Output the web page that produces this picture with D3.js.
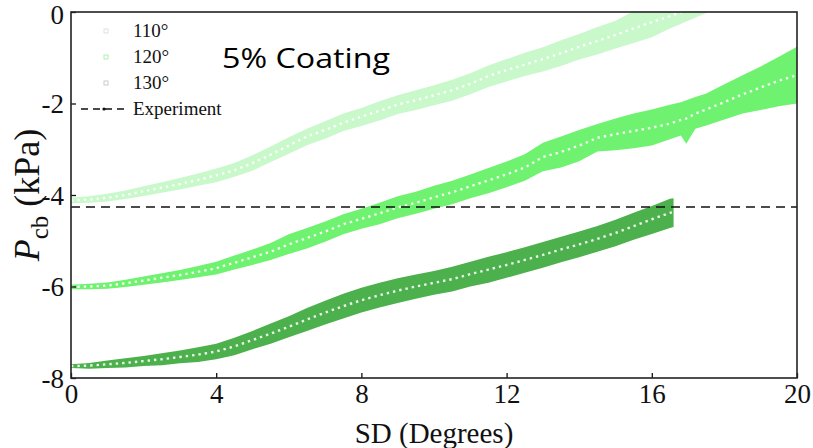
<!DOCTYPE html>
<html>
<head>
<meta charset="utf-8">
<script src="https://cdn.jsdelivr.net/npm/d3@7"></script>
<style>
  body { margin: 0; background: #fff; }
  svg { display: block; }
</style>
</head>
<body>
<script>
// P_cb vs SD bands for three contact angles, 5% coating

// x positions (degrees)
const sd110 = [0,0.5,1,1.5,2,2.5,3,3.5,4,4.5,5,5.5,6,6.5,7,7.5,8,8.5,9,9.5,10,10.5,11,11.5,12,12.5,13,13.5,14,14.5,15,15.5,16,16.5,17,17.5,18];
const mean110 = [-4.12,-4.10,-4.06,-4.00,-3.92,-3.84,-3.76,-3.67,-3.57,-3.46,-3.30,-3.12,-2.92,-2.72,-2.58,-2.42,-2.29,-2.16,-2.02,-1.93,-1.82,-1.71,-1.57,-1.40,-1.27,-1.15,-1.03,-0.90,-0.76,-0.63,-0.50,-0.36,-0.22,-0.09,0.05,0.18,0.31];
const hi110 = [-4.06,-4.03,-3.97,-3.90,-3.81,-3.72,-3.63,-3.53,-3.42,-3.30,-3.13,-2.94,-2.74,-2.55,-2.39,-2.22,-2.10,-1.95,-1.82,-1.71,-1.60,-1.48,-1.34,-1.17,-1.03,-0.89,-0.77,-0.62,-0.48,-0.33,-0.19,0.02,0.12,0.26,0.40,0.54,0.66];
const lo110 = [-4.18,-4.17,-4.14,-4.09,-4.02,-3.95,-3.88,-3.80,-3.72,-3.60,-3.47,-3.28,-3.10,-2.91,-2.77,-2.60,-2.49,-2.37,-2.23,-2.14,-2.04,-1.94,-1.80,-1.64,-1.52,-1.40,-1.30,-1.18,-1.04,-0.93,-0.80,-0.68,-0.55,-0.36,-0.19,-0.02,0.15];

const sd120 = [0,0.5,1,1.5,2,2.5,3,3.5,4,4.5,5,5.5,6,6.5,7,7.5,8,8.5,9,9.5,10,10.5,11,11.5,12,12.5,13,13.5,14,14.5,15,15.5,16,16.5,16.8,16.95,17.2,17.5,18,18.5,19,19.5,20];
const mean120 = [-6.01,-6.00,-5.98,-5.93,-5.87,-5.81,-5.75,-5.68,-5.60,-5.48,-5.36,-5.24,-5.08,-4.94,-4.80,-4.64,-4.52,-4.40,-4.27,-4.17,-4.05,-3.94,-3.81,-3.68,-3.55,-3.40,-3.17,-3.06,-2.92,-2.75,-2.67,-2.60,-2.53,-2.44,-2.36,-2.33,-2.22,-2.13,-1.97,-1.80,-1.65,-1.50,-1.38];
const hi120 = [-5.96,-5.94,-5.91,-5.85,-5.78,-5.71,-5.64,-5.55,-5.46,-5.32,-5.19,-5.05,-4.86,-4.72,-4.58,-4.42,-4.30,-4.17,-4.03,-3.93,-3.80,-3.69,-3.55,-3.41,-3.27,-3.11,-2.86,-2.72,-2.58,-2.45,-2.33,-2.22,-2.13,-2.03,-1.97,-1.93,-1.86,-1.78,-1.58,-1.38,-1.19,-0.98,-0.76];
const lo120 = [-6.06,-6.06,-6.05,-6.01,-5.96,-5.91,-5.86,-5.80,-5.74,-5.63,-5.53,-5.42,-5.29,-5.17,-5.02,-4.86,-4.74,-4.64,-4.51,-4.41,-4.30,-4.20,-4.07,-3.96,-3.83,-3.69,-3.48,-3.40,-3.26,-3.05,-3.02,-2.98,-2.92,-2.78,-2.70,-2.88,-2.55,-2.48,-2.35,-2.22,-2.14,-2.06,-2.00];

const sd130 = [0,0.5,1,1.5,2,2.5,3,3.5,4,4.5,5,5.5,6,6.5,7,7.5,8,8.5,9,9.5,10,10.5,11,11.5,12,12.5,13,13.5,14,14.5,15,15.5,16,16.5,16.6];
const mean130 = [-7.74,-7.73,-7.70,-7.67,-7.63,-7.59,-7.54,-7.49,-7.42,-7.31,-7.17,-7.03,-6.88,-6.72,-6.57,-6.43,-6.30,-6.19,-6.09,-6.00,-5.92,-5.84,-5.73,-5.63,-5.53,-5.42,-5.31,-5.19,-5.08,-4.96,-4.83,-4.68,-4.53,-4.39,-4.37];
const hi130 = [-7.70,-7.67,-7.62,-7.57,-7.52,-7.46,-7.40,-7.33,-7.25,-7.12,-6.97,-6.81,-6.65,-6.47,-6.31,-6.16,-6.03,-5.92,-5.82,-5.74,-5.66,-5.57,-5.46,-5.35,-5.25,-5.14,-5.03,-4.91,-4.80,-4.68,-4.54,-4.39,-4.24,-4.08,-4.07];
const lo130 = [-7.78,-7.80,-7.78,-7.77,-7.74,-7.72,-7.68,-7.65,-7.59,-7.50,-7.37,-7.25,-7.11,-6.97,-6.83,-6.70,-6.57,-6.46,-6.36,-6.27,-6.18,-6.11,-6.00,-5.92,-5.81,-5.70,-5.59,-5.47,-5.36,-5.24,-5.12,-4.98,-4.85,-4.72,-4.70];

const experiment = -4.26;

const xTicks = [0, 4, 8, 12, 16, 20];
const yTicks = [0, -2, -4, -6, -8];

const legendLabels = ['110°', '120°', '130°'];
const bandColors = ['#c9f8cb', '#6ff26f', '#4cb14c'];
const markerColors = ['#d8d8d8', '#9be89b', '#bdbdbd'];

const series = [
  {x: sd110, mean: mean110, hi: hi110, lo: lo110},
  {x: sd120, mean: mean120, hi: hi120, lo: lo120},
  {x: sd130, mean: mean130, hi: hi130, lo: lo130}
];

const width = 813;
const height = 448;
const margin = ({top: 12, right: 16, bottom: 70, left: 71});
const serif = "'Liberation Serif', 'Times New Roman', serif";

const xScale = d3.scaleLinear()
  .domain([0, 20])
  .range([margin.left, width - margin.right]);

const yScale = d3.scaleLinear()
  .domain([-8, 0])
  .range([height - margin.bottom, margin.top]);

const svg = d3.select('body')
  .append('svg')
  .attr('width', width)
  .attr('height', height)
  .attr('font-family', serif);

svg.append('clipPath')
  .attr('id', 'plot')
  .append('rect')
  .attr('x', margin.left)
  .attr('y', margin.top)
  .attr('width', xScale(20) - xScale(0))
  .attr('height', yScale(-8) - yScale(0));

const plot = svg.append('g').attr('clip-path', 'url(#plot)');

// bands
series.forEach((s, i) => {
  const rows = s.x.map((x, j) => ({x: x, mean: s.mean[j], hi: s.hi[j], lo: s.lo[j]}));

  const area = d3.area()
    .x(d => xScale(d.x))
    .y0(d => yScale(d.lo))
    .y1(d => yScale(d.hi));

  plot.append('path')
    .datum(rows)
    .attr('d', area)
    .attr('fill', bandColors[i]);

  const line = d3.line()
    .x(d => xScale(d.x))
    .y(d => yScale(d.mean));

  plot.append('path')
    .datum(rows)
    .attr('d', line)
    .attr('fill', 'none')
    .attr('stroke', '#fff')
    .attr('stroke-width', 2.4)
    .attr('stroke-dasharray', '2.4,4')
    .attr('opacity', 0.9);
});

// experiment line
svg.append('line')
  .attr('x1', xScale(0))
  .attr('x2', xScale(20))
  .attr('y1', yScale(experiment))
  .attr('y2', yScale(experiment))
  .attr('stroke', '#111')
  .attr('stroke-width', 1.5)
  .attr('stroke-dasharray', '9,6');

// axes
const xAxis = d3.axisBottom(xScale).tickValues(xTicks).tickSize(-5).tickPadding(6).tickFormat(d3.format('d'));
const yAxis = d3.axisLeft(yScale).tickValues(yTicks).tickSize(-5).tickPadding(7).tickFormat(d => d);

const gx = svg.append('g')
  .attr('transform', `translate(0,${height - margin.bottom})`)
  .call(xAxis);

const gy = svg.append('g')
  .attr('transform', `translate(${margin.left},0)`)
  .call(yAxis);

[gx, gy].forEach(g => {
  g.attr('font-family', serif).attr('font-size', 27);
  g.select('.domain').remove();
  g.selectAll('.tick line').attr('stroke', '#111').attr('stroke-width', 1.3);
  g.selectAll('.tick text').attr('fill', '#111');
});
gy.selectAll('.tick text').attr('dy', d => d === 0 ? '0.42em' : '0.34em');

// frame
svg.append('rect')
  .attr('x', xScale(0))
  .attr('y', yScale(0))
  .attr('width', xScale(20) - xScale(0))
  .attr('height', yScale(-8) - yScale(0))
  .attr('fill', 'none')
  .attr('stroke', '#222')
  .attr('stroke-width', 1.6);

// axis titles
svg.append('text')
  .attr('x', (xScale(0) + xScale(20)) / 2)
  .attr('y', 443)
  .attr('text-anchor', 'middle')
  .attr('font-size', 29)
  .attr('fill', '#111')
  .text('SD (Degrees)');

const ylab = svg.append('text')
  .attr('transform', `translate(39,${yScale(-4)}) rotate(-90)`)
  .attr('text-anchor', 'middle')
  .attr('font-size', 36)
  .attr('fill', '#111');
ylab.append('tspan').attr('font-style', 'italic').text('P');
ylab.append('tspan').attr('dy', 9).attr('font-size', 25).text('cb');
ylab.append('tspan').attr('dy', -9).text(' (kPa)');

// legend
const legend = svg.append('g');
legendLabels.forEach((label, i) => {
  const ly = 31 + i * 26;
  legend.append('rect')
    .attr('x', 104)
    .attr('y', ly - 2)
    .attr('width', 4)
    .attr('height', 4)
    .attr('fill', 'none')
    .attr('stroke', markerColors[i])
    .attr('stroke-width', 0.8);
  legend.append('text')
    .attr('x', 133)
    .attr('y', ly + 6)
    .attr('font-size', 19)
    .attr('fill', '#111')
    .text(label);
});

legend.append('line')
  .attr('x1', 81).attr('x2', 129)
  .attr('y1', 109).attr('y2', 109)
  .attr('stroke', '#111')
  .attr('stroke-width', 1.4)
  .attr('stroke-dasharray', '7,5');
legend.append('circle')
  .attr('cx', 104).attr('cy', 109).attr('r', 1.6)
  .attr('fill', '#111');
legend.append('text')
  .attr('x', 133)
  .attr('y', 115)
  .attr('font-size', 19)
  .attr('fill', '#111')
  .text('Experiment');

// annotation
svg.append('text')
  .attr('x', 222)
  .attr('y', 68)
  .attr('font-family', "'Open Sans', 'Noto Sans', sans-serif")
  .attr('font-size', 28)
  .attr('textLength', 168)
  .attr('lengthAdjust', 'spacingAndGlyphs')
  .attr('fill', '#000')
  .text('5% Coating');
</script>
</body>
</html>
